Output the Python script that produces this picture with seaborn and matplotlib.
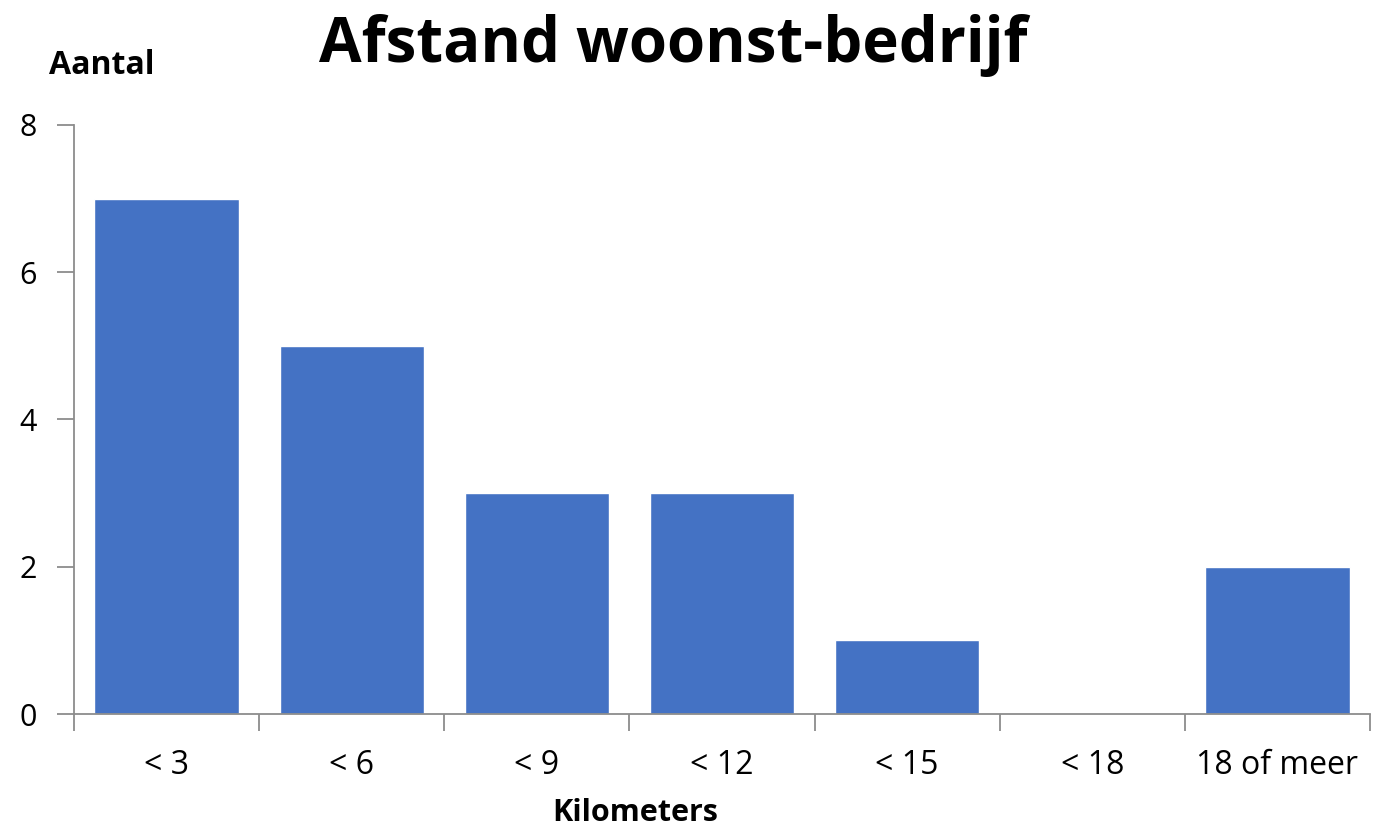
import matplotlib
matplotlib.use("Agg")
import matplotlib.pyplot as plt
import seaborn as sns
import pandas as pd
import numpy as np

# Data
categories = ['< 3', '< 6', '< 9', '< 12', '< 15', '< 18', '18 of meer']
aantal = [7, 5, 3, 3, 1, 0, 2]

df = pd.DataFrame({'km': categories, 'aantal': aantal})

sns.set_theme(style="white")
plt.rcParams['font.family'] = ['Open Sans', 'DejaVu Sans']
plt.rcParams['text.color'] = 'black'

fig = plt.figure(figsize=(13.9, 8.3), dpi=100)
ax = fig.add_axes([74 / 1390, 1 - 714 / 830, (1370 - 74) / 1390, (714 - 125) / 830])

sns.barplot(data=df, x='km', y='aantal', color='#4472C4', saturation=1,
            width=0.78, ax=ax)

ax.set_xlim(-0.5, len(categories) - 0.5)
ax.set_ylim(0, 8)
ax.set_yticks([0, 2, 4, 6, 8])

# spines
for side in ['top', 'right']:
    ax.spines[side].set_visible(False)
for side in ['left', 'bottom']:
    ax.spines[side].set_color('#8c8c8c')
    ax.spines[side].set_linewidth(1.3)

# tick marks: y outward, x at category boundaries
ax.tick_params(axis='y', which='major', direction='out', length=12, width=1.3,
               color='#8c8c8c', left=True, pad=15, labelsize=22, labelcolor='black')
ax.tick_params(axis='x', which='major', length=0, pad=25, labelsize=23, labelcolor='black')
ax.set_xticks(np.arange(-0.5, len(categories)), minor=True)
ax.tick_params(axis='x', which='minor', direction='out', length=12, width=1.3,
               color='#8c8c8c', bottom=True)

ax.set_xlabel('')
ax.set_ylabel('')

fig.text(0.484, 0.945, 'Afstand woonst-bedrijf', ha='center', va='center',
         fontsize=44.5, fontweight='bold', color='black')
fig.text(0.035, 0.921, 'Aantal', ha='left', va='center',
         fontsize=23, fontweight='bold', color='black')
fig.text(0.457, 0.021, 'Kilometers', ha='center', va='center',
         fontsize=22, fontweight='bold', color='black')

fig.savefig('out.png', dpi=100)
